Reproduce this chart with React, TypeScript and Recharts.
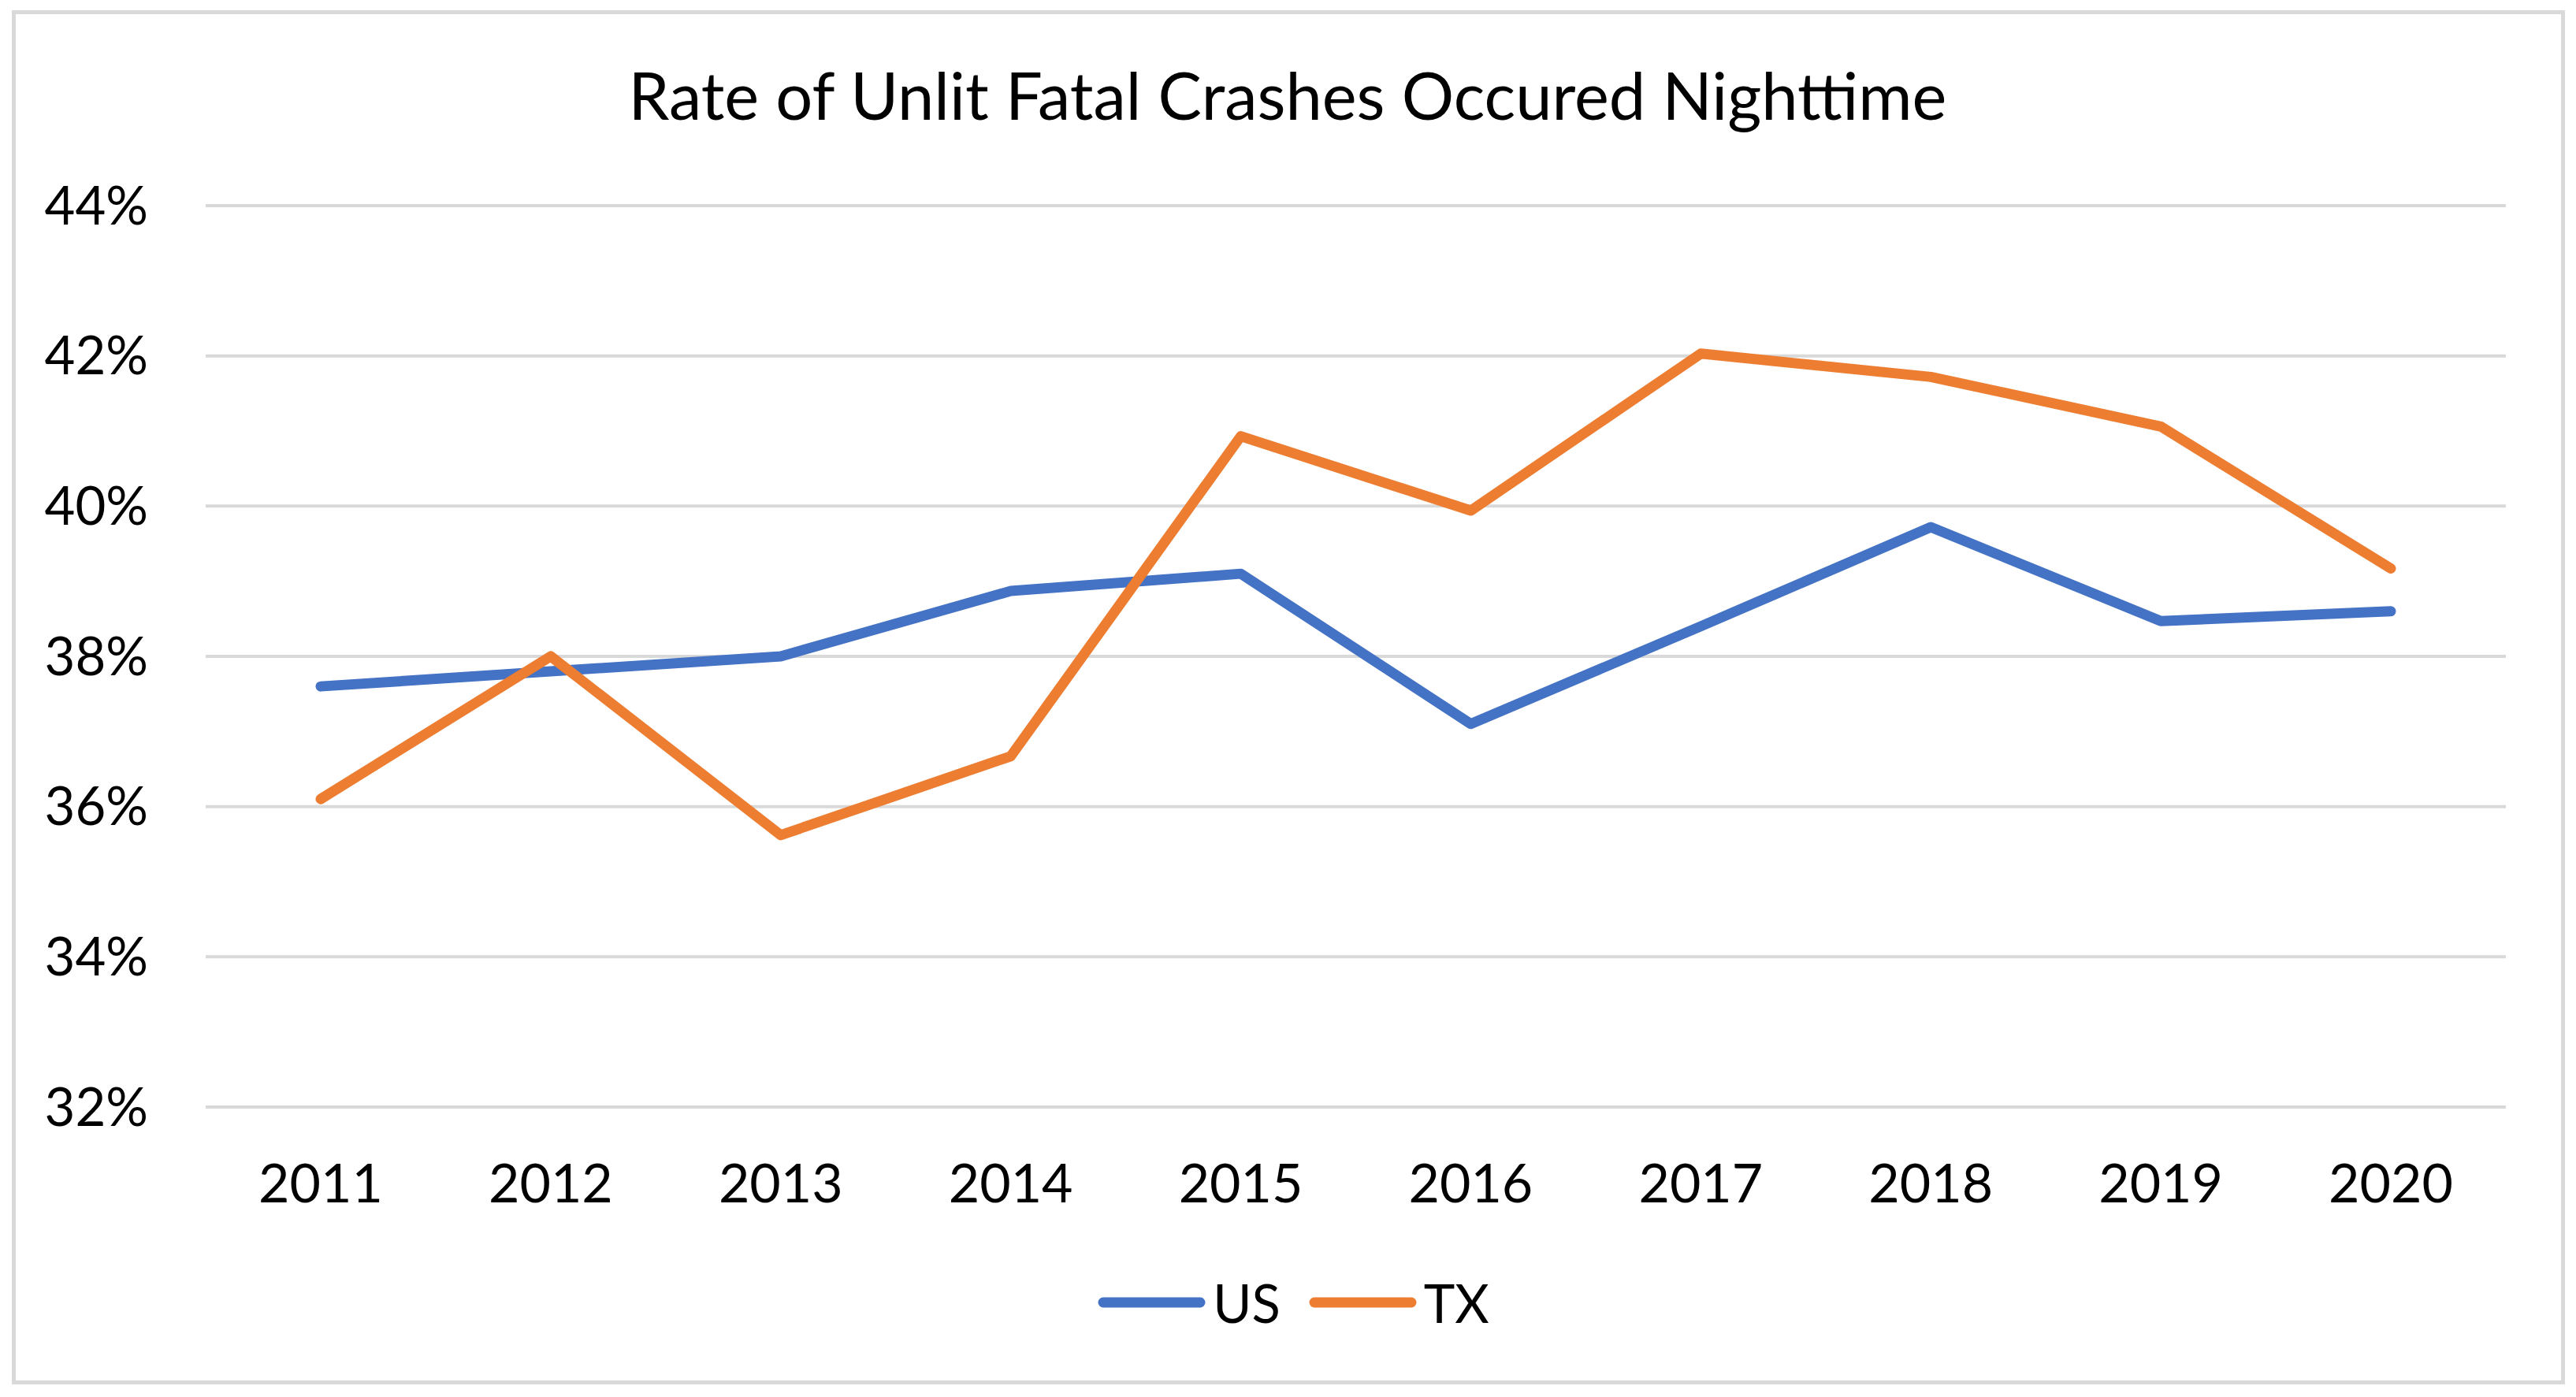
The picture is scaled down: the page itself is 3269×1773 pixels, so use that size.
import React from 'react';
import { LineChart, Line, XAxis, YAxis, CartesianGrid, Legend } from 'recharts';

const years = ['2011', '2012', '2013', '2014', '2015', '2016', '2017', '2018', '2019', '2020'];
const usRate = [37.6, 37.8, 38.0, 38.87, 39.1, 37.1, 38.4, 39.72, 38.47, 38.6];
const txRate = [36.1, 38.0, 35.62, 36.67, 40.93, 39.94, 42.03, 41.72, 41.06, 39.17];
const yTicks = [32, 34, 36, 38, 40, 42, 44];

const FONT = 'Lato, "Liberation Sans", sans-serif';
const W = 3269;
const H = 1773;

const data = years.map((year, i) => ({ year, US: usRate[i], TX: txRate[i] }));

const legendItems = [
  { name: 'US', color: '#4472C4' },
  { name: 'TX', color: '#ED7D31' },
];

// Excel-style legend: thick rounded swatch, label right next to it
const ExcelLegend = () => (
  <div
    style={{
      display: 'flex',
      justifyContent: 'center',
      alignItems: 'center',
      height: 80,
      paddingLeft: 14,
      fontFamily: FONT,
      fontSize: 67,
      color: '#000',
    }}
  >
    {legendItems.map((item, i) => (
      <div
        key={item.name}
        style={{ display: 'flex', alignItems: 'center', marginLeft: i === 0 ? 0 : 36 }}
      >
        <svg width={137} height={20} style={{ display: 'block' }}>
          <line x1={7} y1={10} x2={130} y2={10} stroke={item.color} strokeWidth={13} strokeLinecap="round" />
        </svg>
        <span style={{ marginLeft: 9, lineHeight: 1 }}>{item.name}</span>
      </div>
    ))}
  </div>
);

export default function App() {
  return (
    <div style={{ position: 'absolute', left: 0, top: 0, width: W, height: H, background: '#fff' }}>
      {/* chart frame */}
      <div
        style={{
          position: 'absolute',
          left: 15,
          top: 13,
          width: 3240,
          height: 1744,
          boxSizing: 'border-box',
          border: '5px solid #D9D9D9',
        }}
      />
      <svg style={{ position: 'absolute', left: 0, top: 0 }} width={W} height={200}>
        <text x={1634} y={152} textAnchor="middle" fontFamily={FONT} fontSize={83} fill="#000">
          Rate of Unlit Fatal Crashes Occured Nighttime
        </text>
      </svg>
      <div style={{ position: 'absolute', left: 0, top: 0 }}>
        <LineChart width={W} height={H} data={data} margin={{ top: 261, right: 89, bottom: 268, left: 0 }}>
          <CartesianGrid vertical={false} stroke="#D9D9D9" strokeWidth={4} />
          <XAxis
            dataKey="year"
            axisLine={false}
            tickLine={false}
            tickSize={0}
            tickMargin={73}
            height={100}
            padding={{ left: 146, right: 146 }}
            tick={{ fill: '#000', fontSize: 68, fontFamily: FONT }}
          />
          <YAxis
            domain={[32, 44]}
            ticks={yTicks}
            axisLine={false}
            tickLine={false}
            tickSize={0}
            tickMargin={73}
            width={261}
            tickFormatter={(v) => `${v}%`}
            tick={{ fill: '#000', fontSize: 67, fontFamily: FONT }}
          />
          <Legend
            verticalAlign="middle"
            align="center"
            wrapperStyle={{ top: 1613, left: 0, width: W }}
            content={() => <ExcelLegend />}
          />
          <Line
            type="linear"
            dataKey="US"
            stroke="#4472C4"
            strokeWidth={13}
            strokeLinecap="round"
            strokeLinejoin="round"
            dot={false}
            activeDot={false}
            isAnimationActive={false}
          />
          <Line
            type="linear"
            dataKey="TX"
            stroke="#ED7D31"
            strokeWidth={13}
            strokeLinecap="round"
            strokeLinejoin="round"
            dot={false}
            activeDot={false}
            isAnimationActive={false}
          />
        </LineChart>
      </div>
    </div>
  );
}
